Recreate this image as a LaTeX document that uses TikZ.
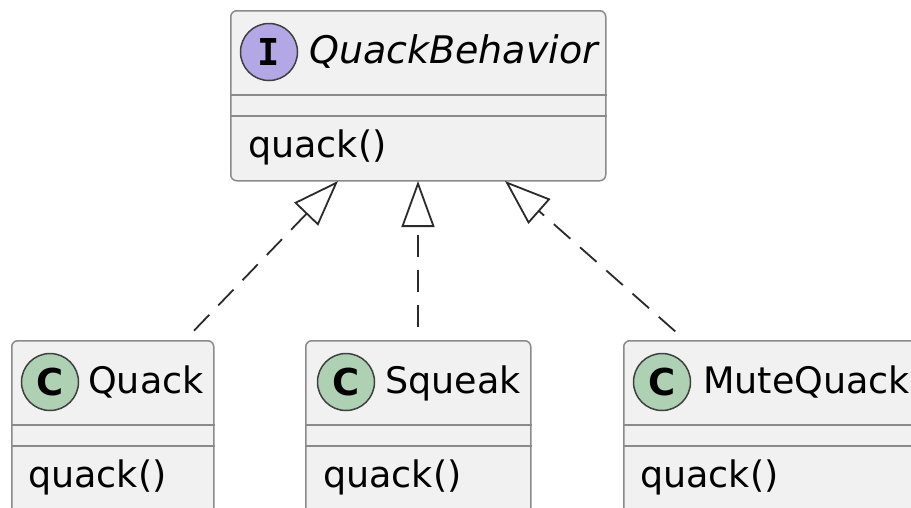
\documentclass[tikz,border=0pt]{standalone}
\usepackage{fontspec}
\setmainfont{DejaVu Sans}
\newfontfamily\badgefont{DejaVu Sans Mono}
\usetikzlibrary{arrows.meta}
\definecolor{boxfill}{HTML}{F1F1F1}
\definecolor{boxline}{HTML}{8A8A8A}
\definecolor{linkline}{HTML}{2A2A2A}
\definecolor{ifacefill}{HTML}{B4A7E5}
\definecolor{classfill}{HTML}{ADD1B2}
\tikzset{
	classbox/.style={draw=boxline, fill=boxfill, line width=1.5pt, rounded corners=6pt, inner sep=0pt, anchor=north west},
	sepline/.style={draw=boxline, line width=1.5pt},
	badge/.style={circle, draw=black!75, line width=1.5pt, minimum size=57pt, inner sep=0pt, font=\bfseries\fontsize{37}{37}\selectfont},
	umltext/.style={anchor=base west, inner sep=0pt, font=\fontsize{36.5}{40}\selectfont},
	realize/.style={draw=linkline, line width=1.8pt, dash pattern=on 22pt off 13pt, dash phase=22pt, -{Triangle[open, length=46pt, width=33pt]}}
}

\begin{document}
\begin{tikzpicture}[x=1pt, y=-1pt]
			%%%%% START %%%%%
			\clip (0, 0) rectangle (911, 507);
			
			% interface
			\node[classbox, minimum width=375pt, minimum height=170pt] (qb) at (230, 10) {};
			\draw[sepline] ([yshift=-85pt]qb.north west) -- ([yshift=-85pt]qb.north east);
			\draw[sepline] ([yshift=-106pt]qb.north west) -- ([yshift=-106pt]qb.north east);
			\node[badge, fill=ifacefill, font=\badgefont\bfseries\fontsize{37}{37}\selectfont] (qb-badge) at (269, 52) {I};
			\node[umltext, font=\fontsize{38}{42}\selectfont\itshape] (qb-name) at (309, 63) {QuackBehavior};
			\node[umltext] (qb-op) at (248, 157) {quack()};
			
			% classes
			\node[classbox, minimum width=202pt, minimum height=190pt] (quack) at (11, 340) {};
			\draw[sepline] ([yshift=-85pt]quack.north west) -- ([yshift=-85pt]quack.north east);
			\draw[sepline] ([yshift=-106pt]quack.north west) -- ([yshift=-106pt]quack.north east);
			\node[badge, fill=classfill] (quack-badge) at (50, 382) {C};
			\node[umltext] (quack-name) at (88, 393) {Quack};
			\node[umltext] (quack-op) at (28, 487) {quack()};
			
			\node[classbox, minimum width=225pt, minimum height=190pt] (squeak) at (305, 340) {};
			\draw[sepline] ([yshift=-85pt]squeak.north west) -- ([yshift=-85pt]squeak.north east);
			\draw[sepline] ([yshift=-106pt]squeak.north west) -- ([yshift=-106pt]squeak.north east);
			\node[badge, fill=classfill] (squeak-badge) at (346, 382) {C};
			\node[umltext] (squeak-name) at (385, 393) {Squeak};
			\node[umltext] (squeak-op) at (323, 487) {quack()};
			
			\node[classbox, minimum width=320pt, minimum height=190pt] (mute) at (623, 340) {};
			\draw[sepline] ([yshift=-85pt]mute.north west) -- ([yshift=-85pt]mute.north east);
			\draw[sepline] ([yshift=-106pt]mute.north west) -- ([yshift=-106pt]mute.north east);
			\node[badge, fill=classfill] (mute-badge) at (662, 382) {C};
			\node[umltext] (mute-name) at (703, 393) {MuteQuack};
			\node[umltext] (mute-op) at (640, 487) {quack()};
			
			% realizations
			\coordinate (quack-top) at (185, 340);
			\coordinate (squeak-top) at (418, 340);
			\coordinate (mute-top) at (685, 340);
			\coordinate (qb-left) at (338, 181);
			\coordinate (qb-mid) at (418, 181);
			\coordinate (qb-right) at (505, 181);
			\draw[realize] (quack-top) -- (qb-left);
			\draw[realize] (squeak-top) -- (qb-mid);
			\draw[realize] (mute-top) -- (qb-right);
			
			%%%%% END %%%%%
\end{tikzpicture}
\end{document}
